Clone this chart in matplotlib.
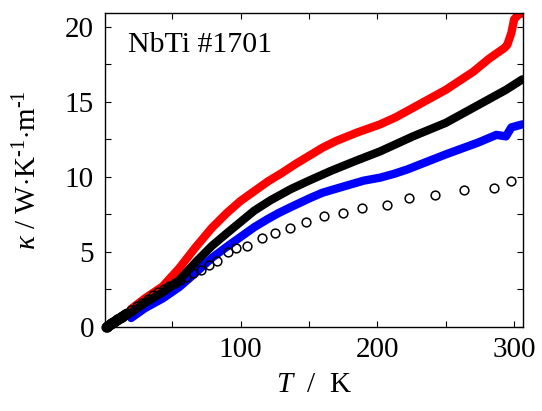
import numpy as np
import matplotlib
matplotlib.use('Agg')
import matplotlib.pyplot as plt

plt.rcParams['font.family'] = ['Liberation Serif', 'DejaVu Serif']
plt.rcParams['mathtext.fontset'] = 'custom'
plt.rcParams['mathtext.rm'] = 'Liberation Serif'
plt.rcParams['mathtext.it'] = 'Liberation Serif:italic'

# red series (T, kappa)
red_T = [20, 30, 43, 55, 67, 79, 90, 100, 110, 120, 130, 140, 150, 160, 170, 185, 202, 214, 226, 238,
         250, 260, 270, 282, 293, 295, 298, 300, 303, 306]
red_k = [1.2, 1.9, 2.7, 3.9, 5.3, 6.6, 7.6, 8.4, 9.05, 9.7, 10.25, 10.85, 11.4, 11.95, 12.4, 12.95, 13.5, 14.0, 14.6, 15.2,
         15.8, 16.4, 17.0, 17.9, 18.6, 18.8, 19.6, 20.5, 20.8, 20.9]

# black series
blk_T = [20, 30, 43, 55, 67, 79, 90, 100, 110, 122, 137, 150, 166, 185, 202, 214, 226, 238, 250, 262, 274, 284, 294, 306]
blk_k = [0.95, 1.6, 2.3, 3.1, 4.3, 5.4, 6.25, 7.0, 7.75, 8.45, 9.2, 9.75, 10.4, 11.1, 11.7, 12.2, 12.7, 13.15, 13.6, 14.2, 14.8, 15.3, 15.8, 16.5]

# blue series
blu_T = [20, 30, 43, 55, 67, 79, 90, 100, 110, 120, 128, 137, 151, 160, 173, 190, 202, 212, 222, 236,
         250, 262, 274, 287, 294, 298, 306]
blu_k = [0.6, 1.25, 1.9, 2.65, 3.6, 4.6, 5.35, 6.0, 6.65, 7.2, 7.6, 8.0, 8.6, 8.95, 9.3, 9.75, 9.95, 10.2, 10.5, 11.0,
         11.5, 11.9, 12.3, 12.8, 12.7, 13.3, 13.5]

# open circles
circ_T = [1.5, 2.0, 2.5, 3.0, 3.5, 4.0, 4.5, 5.0, 5.5, 6.0, 6.5, 7.0, 7.5, 8.0, 8.5, 9.0, 9.5, 10.0,
          10.5, 11.0, 11.5, 12.0, 12.5, 13.0, 13.5, 14.0, 14.5, 15.0, 15.5, 16.0, 17,
          20, 24, 28, 32, 36, 40, 44, 48, 52, 56, 60, 65, 71, 77, 83, 91, 97, 105,
          116, 125, 136, 148, 161, 175, 189, 207, 223, 242, 263, 285, 298]
circ_k = [0.0, 0.03, 0.06, 0.09, 0.12, 0.15, 0.18, 0.21, 0.24, 0.27, 0.3, 0.33, 0.36, 0.39, 0.42, 0.45, 0.48, 0.51,
          0.54, 0.57, 0.6, 0.63, 0.66, 0.69, 0.72, 0.75, 0.78, 0.81, 0.84, 0.87, 0.95,
          1.15, 1.4, 1.6, 1.85, 2.1, 2.35, 2.55, 2.75, 2.95, 3.1, 3.3, 3.57, 3.8, 4.1, 4.4, 5.0, 5.27, 5.42,
          5.9, 6.24, 6.6, 6.97, 7.37, 7.57, 7.9, 8.1, 8.57, 8.8, 9.1, 9.25, 9.7]

fig = plt.figure(figsize=(5.42, 4.11), dpi=100)
ax = fig.add_axes([0.194, 0.2044, 0.771, 0.7632])

lw = 6
ax.plot(red_T, red_k, color='#ff0000', lw=lw, solid_capstyle='round', solid_joinstyle='round', zorder=2)
ax.plot(blu_T, blu_k, color='#0000ff', lw=lw, solid_capstyle='round', solid_joinstyle='round', zorder=3)
ax.plot(blk_T, blk_k, color='black', lw=lw, solid_capstyle='round', solid_joinstyle='round', zorder=4)
ax.plot(circ_T, circ_k, 'o', mfc='none', mec='black', mew=1.1, ms=6.3, zorder=5, clip_on=False)

ax.set_xlim(1, 306.5)
ax.set_ylim(0, 20.9)
ax.set_xticks([100, 200, 300])
ax.set_xticks([50, 150, 250], minor=True)
ax.set_yticks([0, 5, 10, 15, 20])
ax.set_yticks([2.5, 7.5, 12.5, 17.5], minor=True)

for s in ax.spines.values():
    s.set_linewidth(1.0)
ax.tick_params(which='both', direction='in', top=True, right=True, length=4, width=0.8)
ax.tick_params(axis='x', which='major', labelsize=21, pad=7)
ax.tick_params(axis='y', which='major', labelsize=21, pad=8)

ax.set_xlabel(r'$T$  /  K', fontsize=21)
ax.xaxis.set_label_coords(0.5, -0.145)
ax.set_ylabel(r'$\kappa$ / W$\cdot$K$^{\text{-}1}$$\cdot$m$^{\text{-}1}$', fontsize=21)
ax.yaxis.set_label_coords(-0.15, 0.5)

ax.text(0.055, 0.876, 'NbTi #1701', transform=ax.transAxes, fontsize=21.5, va='baseline', ha='left')

fig.savefig('out.png', dpi=100)
